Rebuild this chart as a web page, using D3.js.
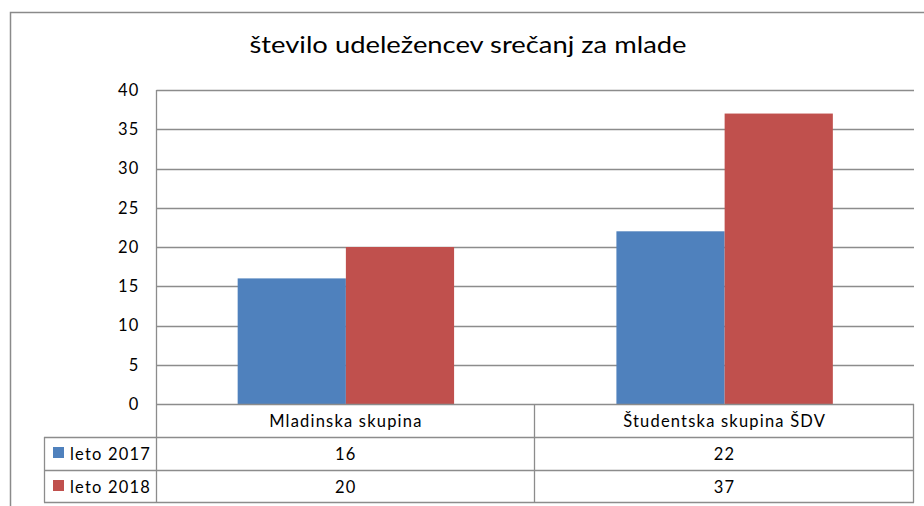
<!DOCTYPE html>
<html><head><meta charset="utf-8">
<script src="https://cdn.jsdelivr.net/npm/d3@7"></script>
<style>body{margin:0;background:#fff}svg{display:block}text{font-family:Lato,"Open Sans",sans-serif;fill:#000}
.lbl{font-size:16.5px;letter-spacing:1.2px}</style>
</head><body><svg id="c" width="924" height="506"></svg>
<script>
const title = "število udeležencev srečanj za mlade";
const categories = ["Mladinska skupina", "Študentska skupina ŠDV"];
const seriesNames = ["leto 2017", "leto 2018"];
const values2017 = [16, 22];
const values2018 = [20, 37];
const seriesColors = ["#4F81BD", "#C0504D"];
const yTicks = [0, 5, 10, 15, 20, 25, 30, 35, 40];
const seriesValues = [values2017, values2018];

(function () {
const svg = d3.select("#c");
const grid = "#8c8c8c";
svg.append("rect").attr("x", 10.5).attr("y", 12.5).attr("width", 930).attr("height", 510)
  .attr("fill", "none").attr("stroke", "#8a8a8a").attr("stroke-width", 1.5);

svg.append("text").attr("x", 468).attr("y", 53).attr("text-anchor", "middle")
  .attr("font-size", 23).attr("textLength", 437).attr("lengthAdjust", "spacingAndGlyphs").text(title);

const pLeft = 156.5, pRight = 914, pTop = 90, pBottom = 404;
const y = d3.scaleLinear().domain([0, 40]).range([pBottom, pTop]);
const x = d3.scaleBand().domain(categories).range([pLeft, pRight]).padding(0);
const xs = d3.scaleBand().domain(seriesNames).range([0, x.bandwidth()]).paddingInner(0).paddingOuter(0.75);

svg.append("g").selectAll("line").data(yTicks.filter(t => t > 0)).join("line")
  .attr("x1", pLeft).attr("x2", pRight).attr("y1", d => Math.round(y(d)) + 0.5).attr("y2", d => Math.round(y(d)) + 0.5)
  .attr("stroke", grid).attr("stroke-width", 1.3);

seriesNames.forEach((s, si) => {
  svg.append("g").selectAll("rect").data(categories).join("rect")
    .attr("x", d => x(d) + xs(s)).attr("width", xs.bandwidth())
    .attr("y", (d, i) => y(seriesValues[si][i])).attr("height", (d, i) => pBottom - y(seriesValues[si][i]))
    .attr("fill", seriesColors[si]);
});

const yAxis = d3.axisLeft(y).tickValues(yTicks).tickSize(0).tickPadding(17);
const ga = svg.append("g").attr("transform", `translate(${pLeft},0)`).call(yAxis);
ga.select(".domain").remove();
ga.selectAll("text").attr("class", "lbl").attr("font-size", null).attr("font-family", null).attr("fill", "#000");

const rowH = 33;
const rows = [pBottom, pBottom + rowH, pBottom + 2 * rowH, pBottom + 3 * rowH - 1];
const tg = svg.append("g").attr("stroke", grid).attr("stroke-width", 1.3);
tg.append("line").attr("x1", pLeft).attr("x2", pRight).attr("y1", rows[0] + 0.5).attr("y2", rows[0] + 0.5);
[1, 2, 3].forEach(r => tg.append("line").attr("x1", 44).attr("x2", pRight).attr("y1", rows[r] + 0.5).attr("y2", rows[r] + 0.5));
tg.append("line").attr("x1", pLeft).attr("x2", pLeft).attr("y1", pTop).attr("y2", rows[3] + 0.5);
tg.append("line").attr("x1", 44.5).attr("x2", 44.5).attr("y1", rows[1]).attr("y2", rows[3] + 0.5);
categories.forEach(c => {
  const xr = x(c) + x.bandwidth();
  tg.append("line").attr("x1", Math.round(xr) - 0.5).attr("x2", Math.round(xr) - 0.5).attr("y1", rows[0]).attr("y2", rows[3] + 0.5);
});

svg.append("g").selectAll("text").data(categories).join("text").attr("class", "lbl")
  .attr("x", d => x(d) + x.bandwidth() / 2).attr("y", rows[0] + rowH / 2 + 6)
  .attr("text-anchor", "middle").text(d => d);

seriesNames.forEach((s, si) => {
  const ry = rows[si + 1];
  svg.append("rect").attr("x", 53).attr("y", ry + 10).attr("width", 11).attr("height", 11).attr("fill", seriesColors[si]);
  svg.append("text").attr("class", "lbl").attr("x", 70).attr("y", ry + rowH / 2 + 6).text(s);
  svg.append("g").selectAll("text").data(categories).join("text").attr("class", "lbl")
    .attr("x", d => x(d) + x.bandwidth() / 2).attr("y", ry + rowH / 2 + 6)
    .attr("text-anchor", "middle").text((d, i) => seriesValues[si][i]);
});
})();
</script></body></html>
